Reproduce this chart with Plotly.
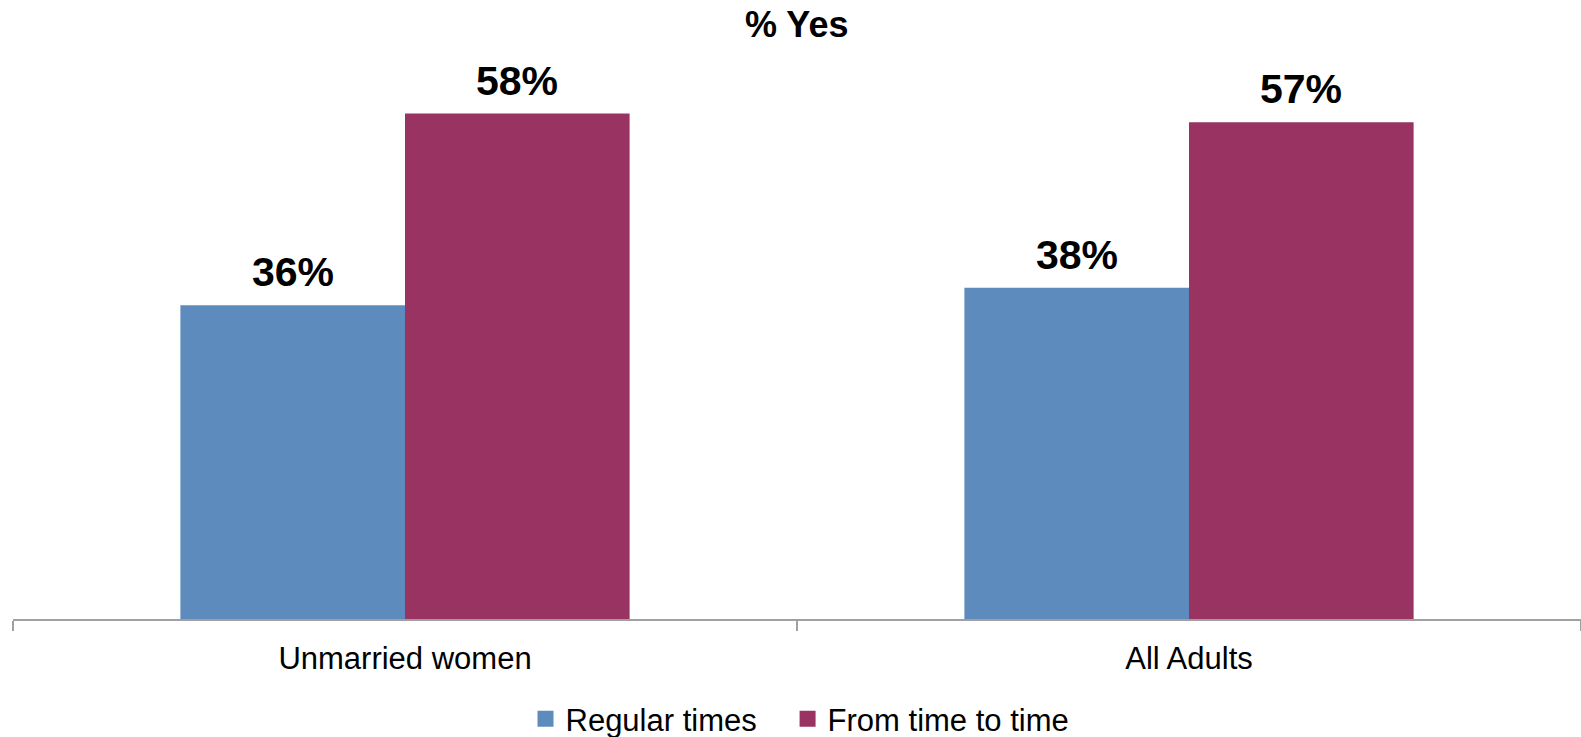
import plotly.graph_objects as go

categories = ["Unmarried women", "All Adults"]
series_names = ["Regular times", "From time to time"]
regular_times = [36, 38]
time_to_time = [58, 57]
colors = ["#5E8BBD", "#993462"]
title_text = "% Yes"

fig = go.Figure()
for name, vals, col in zip(series_names, [regular_times, time_to_time], colors):
    fig.add_trace(go.Bar(
        x=categories, y=vals, name=name,
        marker=dict(color=col, line=dict(width=0)),
        offsetgroup=name, showlegend=False,
    ))
# legend entries with larger square swatches
for k, (name, col) in enumerate(zip(series_names, colors)):
    fig.add_trace(go.Scatter(
        x=[None], y=[None], mode="markers",
        name=name + ("\u00a0\u00a0\u00a0" if k == 0 else ""),
        marker=dict(symbol="square", size=16, color=col),
        showlegend=True,
    ))

annotations = []
for i, (vals) in enumerate([regular_times, time_to_time]):
    for c, v in zip(categories, vals):
        annotations.append(dict(
            x=c, y=v, xref="x", yref="y", text=f"<b>{v}%</b>",
            showarrow=False, yanchor="bottom", yshift=8,
            xshift=(-112 if i == 0 else 112),
            font=dict(family="Liberation Sans, Arial, sans-serif", size=41, color="#000000"),
        ))
annotations.append(dict(
    x=0.5, y=1, xref="paper", yref="paper", text=f"<b>{title_text}</b>",
    showarrow=False, yanchor="middle", yshift=-15,
    xshift=-1,
    font=dict(family="Liberation Sans, Arial, sans-serif", size=36, color="#000000"),
))

fig.update_layout(
    width=1581, height=737,
    margin=dict(l=13, r=0, t=9, b=118),
    paper_bgcolor="white", plot_bgcolor="white",
    barmode="group", bargap=0.427, bargroupgap=0,
    showlegend=True,
    legend=dict(orientation="h", x=800 / 1581, xanchor="center", xref="container",
                y=18 / 737, yanchor="middle", yref="container",
                font=dict(family="Liberation Sans, Arial, sans-serif", size=31, color="#000000"),
                traceorder="normal"),
    annotations=annotations,
    font=dict(family="Liberation Sans, Arial, sans-serif"),
)
fig.update_xaxes(
    showline=True, linecolor="#A0A0A0", linewidth=2,
    ticks="outside", tickson="boundaries", ticklen=10, tickcolor="#A0A0A0", tickwidth=2,
    tickfont=dict(family="Liberation Sans, Arial, sans-serif", size=31, color="#000000"),
    ticklabelstandoff=11,
    showgrid=False, automargin=False,
)
fig.update_yaxes(range=[0, 70], showgrid=False, showticklabels=False, zeroline=False, showline=False)

fig.write_html("out.html", config={"displayModeBar": False},
               post_script="document.body.style.margin='0';document.body.style.overflow='hidden';")
